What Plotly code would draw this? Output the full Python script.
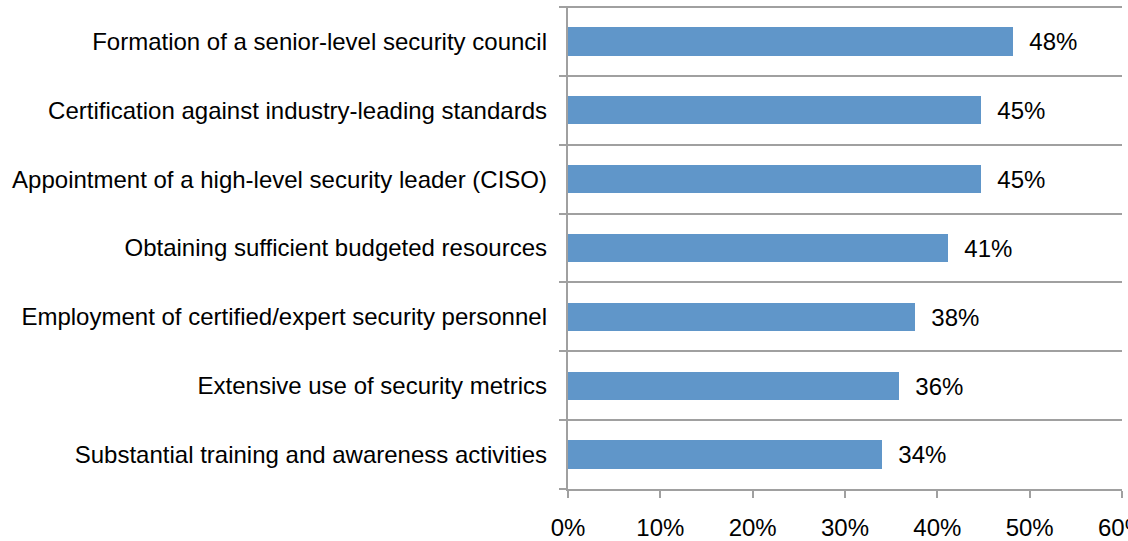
"""Horizontal bar chart of security governance practices."""

import plotly.graph_objects as go

CATEGORIES = [
    "Formation of a senior-level security council",
    "Certification against industry-leading standards",
    "Appointment of a high-level security leader (CISO)",
    "Obtaining sufficient budgeted resources",
    "Employment of certified/expert security personnel",
    "Extensive use of security metrics",
    "Substantial training and awareness activities",
]
VALUES = [0.482, 0.447, 0.447, 0.412, 0.376, 0.358, 0.340]
X_TICKS = [0.0, 0.1, 0.2, 0.3, 0.4, 0.5, 0.6]

BAR_COLOR = "#6096C9"
LINE_COLOR = "#A0A0A0"
TEXT_COLOR = "#000000"
FONT = "Liberation Sans, Arial, sans-serif"
FONT_SIZE = 24

positions = list(range(len(CATEGORIES)))
boundaries = [p - 0.5 for p in positions] + [positions[-1] + 0.5]
# small headroom so the top separator line is drawn
y_range = [positions[-1] + 0.5, -0.515]

fig = go.Figure()

fig.add_trace(go.Bar(
    x=VALUES,
    y=positions,
    orientation="h",
    width=0.41,
    marker={"color": BAR_COLOR, "line": {"width": 0}},
    text=["\u00a0\u00a0" + f"{v:.0%}" for v in VALUES],
    textposition="outside",
    textfont={"size": FONT_SIZE, "color": TEXT_COLOR, "family": FONT},
    cliponaxis=False,
    showlegend=False,
    hoverinfo="skip",
))

# Invisible trace to anchor the label axis
fig.add_trace(go.Scatter(
    x=[None], y=[None], yaxis="y2", showlegend=False, hoverinfo="skip",
))

fig.update_layout(
    width=1128,
    height=541,
    paper_bgcolor="#FFFFFF",
    plot_bgcolor="#FFFFFF",
    font={"family": FONT, "size": FONT_SIZE, "color": TEXT_COLOR},
    margin={"l": 568, "r": 6, "t": 6, "b": 52, "autoexpand": False},
    bargap=0,
    xaxis={
        "range": [0, 0.6],
        "tickvals": X_TICKS,
        "tickformat": ".0%",
        "automargin": False,
        "ticklabeloverflow": "allow",
        "showgrid": False,
        "zeroline": False,
        "showline": True,
        "linecolor": LINE_COLOR,
        "linewidth": 2,
        "ticks": "outside",
        "ticklen": 7,
        "tickwidth": 2,
        "tickcolor": LINE_COLOR,
        "ticklabelstandoff": 9,
        "tickfont": {"size": FONT_SIZE, "color": TEXT_COLOR},
        "fixedrange": True,
    },
    yaxis={
        "range": y_range,
        "tickvals": boundaries,
        "ticktext": [""] * len(boundaries),
        "automargin": False,
        "showgrid": True,
        "gridcolor": LINE_COLOR,
        "gridwidth": 2,
        "zeroline": False,
        "showline": True,
        "linecolor": LINE_COLOR,
        "linewidth": 2,
        "ticks": "outside",
        "ticklen": 7,
        "tickwidth": 2,
        "tickcolor": LINE_COLOR,
        "fixedrange": True,
    },
    yaxis2={
        "overlaying": "y",
        "side": "left",
        "range": y_range,
        "tickvals": positions,
        "ticktext": CATEGORIES,
        "automargin": False,
        "showgrid": False,
        "zeroline": False,
        "showline": False,
        "ticks": "",
        "ticklabelstandoff": 20,
        "tickfont": {"size": FONT_SIZE, "color": TEXT_COLOR},
        "fixedrange": True,
    },
)

# drop the default 8px body margin so the figure sits at the window origin
fig.write_html(
    "out.html",
    config={"displayModeBar": False},
    post_script="document.body.style.margin='0';",
)
